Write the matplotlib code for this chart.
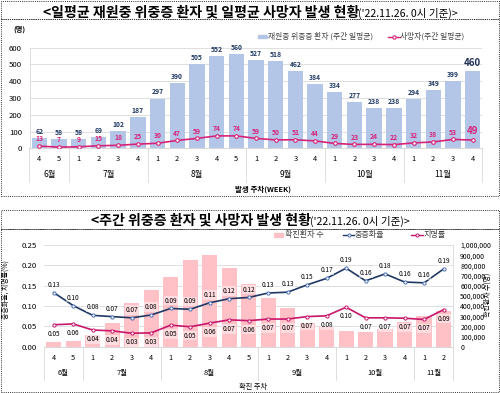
import matplotlib
matplotlib.use('Agg')
import matplotlib.pyplot as plt
from matplotlib.patches import Rectangle
from matplotlib.lines import Line2D
import matplotlib.transforms as mtrans
from matplotlib.ticker import FuncFormatter

plt.rcParams['font.family'] = ['Noto Sans CJK KR', 'DejaVu Sans']

# ---------------- data ----------------
top_months = ['6월', '7월', '8월', '9월', '10월', '11월']
top_month_spans = [2, 4, 5, 4, 4, 4]
top_weeks = ['4', '5', '1', '2', '3', '4', '1', '2', '3', '4', '5',
             '1', '2', '3', '4', '1', '2', '3', '4', '1', '2', '3', '4']
severe_patients = [62, 58, 58, 69, 102, 187, 297, 390, 505, 552, 560, 527,
                   518, 462, 384, 334, 277, 238, 238, 294, 349, 399, 460]
deaths = [13, 7, 9, 15, 18, 25, 30, 47, 59, 74, 74, 59, 50, 51, 44, 29,
          23, 24, 22, 32, 38, 53, 49]

bot_months = ['6월', '7월', '8월', '9월', '10월', '11월']
bot_month_spans = [2, 4, 5, 4, 4, 2]
bot_weeks = ['4', '5', '1', '2', '3', '4', '1', '2', '3', '4', '5',
             '1', '2', '3', '4', '1', '2', '3', '4', '1', '2']
confirmed = [49000, 59000, 114000, 234000, 429000, 560000, 683000, 856000,
             898000, 775000, 612000, 479000, 384000, 234000, 195000, 158000,
             149000, 175000, 243000, 300000, 350000]
severe_rate = [0.133, 0.101, 0.077, 0.074, 0.071, 0.078, 0.094, 0.092, 0.108,
               0.118, 0.121, 0.132, 0.134, 0.152, 0.168, 0.193, 0.162, 0.179,
               0.159, 0.157, 0.191]
fatality_rate = [0.054, 0.056, 0.041, 0.039, 0.033, 0.034, 0.053, 0.049, 0.058,
                 0.066, 0.064, 0.068, 0.068, 0.074, 0.076, 0.097, 0.071, 0.071,
                 0.070, 0.067, 0.091]

# ---------------- styles ----------------
W, H = 500, 393
BAR_BLUE = '#b4c6e7'
NAVY = '#1f3864'
MAGENTA = '#d6237a'
PINK = '#ffc1c6'
CRIMSON = '#c8166c'
GRID = '#d9d9d9'
TXT = '#404040'

fig = plt.figure(figsize=(W / 100, H / 100), dpi=100)
renderer = fig.canvas.get_renderer()


def fx(px):
    return px / W


def fy(py):
    return 1 - py / H


def fit_text(x0, x1, y, s, weight='normal', color='black', base=10):
    t = fig.text(fx(x0), fy(y), s, fontsize=base, fontweight=weight,
                 color=color, ha='left', va='center')
    bb = t.get_window_extent(renderer)
    t.set_fontsize(base * (x1 - x0) / bb.width)
    return t


# dotted frames
for (y0, y1) in [(1, 19), (19, 196), (210, 229), (229, 392)]:
    fig.patches.append(Rectangle((fx(1), fy(y1)), fx(498) - fx(0), fy(y0) - fy(y1),
                                 transform=fig.transFigure, fill=False,
                                 linestyle=(0, (1, 1.2)), linewidth=0.7,
                                 edgecolor='#303030'))

# titles
fit_text(43, 358, 12.5, '<일평균 재원중 위중증 환자 및 일평균 사망자 발생 현황', weight='bold')
fit_text(358, 458, 13.5, "('22.11.26. 0시 기준)>")
fit_text(90.7, 310, 220.5, '<주간 위중증 환자 및 사망자 발생 현황', weight='bold')
fit_text(310, 410, 221.5, "('22.11.26. 0시 기준)>")

# ================= top chart =================
L1, R1, T1, B1 = 29.5, 482.5, 47.7, 148.3
ax1 = fig.add_axes([fx(L1), fy(B1), fx(R1) - fx(L1), fy(T1) - fy(B1)])
n1 = len(severe_patients)
x1 = list(range(n1))
ax1.bar(x1, severe_patients, width=0.78, color=BAR_BLUE, zorder=2)
ax1.plot(x1, deaths, color=MAGENTA, lw=1.2, marker='o', ms=2.6,
         mfc='white', mec=MAGENTA, mew=0.8, zorder=3)
ax1.set_xlim(-0.5, n1 - 0.5)
ax1.set_ylim(0, 600)
ax1.set_yticks(range(0, 601, 100))
ax1.grid(axis='y', color=GRID, lw=0.6, zorder=0)
ax1.set_axisbelow(True)
for s in ['top', 'right']:
    ax1.spines[s].set_visible(False)
ax1.spines['left'].set_color(GRID)
ax1.spines['bottom'].set_color(GRID)
ax1.spines['left'].set_linewidth(0.6)
ax1.spines['bottom'].set_linewidth(0.8)
ax1.tick_params(axis='y', length=0, pad=5.4, labelsize=5.6, labelcolor='black')
ax1.set_xticks(x1)
ax1.set_xticklabels(top_weeks)
ax1.tick_params(axis='x', length=0, pad=5.0, labelsize=5.4, labelcolor='black')

for i, v in enumerate(severe_patients):
    last = i == n1 - 1
    ax1.annotate(str(v), (i, v), xytext=(0, 2.2), textcoords='offset points',
                 ha='center', va='bottom', fontsize=7 if last else 4.9,
                 fontweight='bold', color=NAVY if not last else '#1f2f55')
for i, v in enumerate(deaths):
    last = i == n1 - 1
    ax1.annotate(str(v), (i, v), xytext=(0, 2.8), textcoords='offset points',
                 ha='center', va='bottom', fontsize=7 if last else 4.9,
                 fontweight='bold', color=MAGENTA)

tr1 = mtrans.blended_transform_factory(ax1.transData, fig.transFigure)
pos = -0.5
bounds = [pos]
for m, span in zip(top_months, top_month_spans):
    ax1.text(pos + span / 2, fy(174), m, transform=tr1, ha='center', va='center',
             fontsize=6.0, color='black')
    pos += span
    bounds.append(pos)
for b in bounds:
    ax1.add_line(Line2D([b, b], [fy(B1), fy(181.7)], transform=tr1, color=GRID,
                        lw=0.6, clip_on=False))
fig.text(fx(263), fy(189.5), '발생 주차(WEEK)', fontsize=5.4, fontweight='bold',
         ha='center', va='center')
fig.text(fx(19), fy(29), '(명)', fontsize=5.2, fontweight='bold', ha='center', va='center')

# top legend
fig.patches.append(Rectangle((fx(258.3), fy(38.3)), fx(266.7) - fx(258.3), fy(34.5) - fy(38.3),
                             transform=fig.transFigure, color=BAR_BLUE))
fig.text(fx(268.5), fy(36.5), '재원중 위중증 환자 (주간 일평균)', fontsize=5.6,
         color=TXT, ha='left', va='center')
fig.lines.append(Line2D([fx(387.7), fx(400)], [fy(36.5), fy(36.5)], transform=fig.transFigure,
                        color=MAGENTA, lw=1.0, marker='', zorder=3))
fig.lines.append(Line2D([fx(393.8)], [fy(36.5)], transform=fig.transFigure, color=MAGENTA,
                        marker='o', ms=2.4, mfc='white', mew=0.8, zorder=4))
fig.text(fx(400.5), fy(36.5), '사망자(주간 일평균)', fontsize=5.6, color=TXT,
         ha='left', va='center')

# ================= bottom chart =================
L2, R2, T2, B2 = 44.0, 453.3, 245.0, 346.7
ax2 = fig.add_axes([fx(L2), fy(B2), fx(R2) - fx(L2), fy(T2) - fy(B2)])
ax3 = ax2.twinx()
n2 = len(confirmed)
x2 = list(range(n2))
ax3.bar(x2, confirmed, width=0.78, color=PINK, zorder=1)
ax3.set_ylim(0, 1000000)
ax3.set_yticks(range(0, 1000001, 100000))
ax3.yaxis.set_major_formatter(FuncFormatter(lambda v, p: f'{int(v):,}'))
ax3.tick_params(axis='y', length=0, pad=5.0, labelsize=5.0, labelcolor='black')
ax3.set_zorder(1)
ax2.set_zorder(2)
ax2.patch.set_visible(False)
ax3.grid(False)
for s in ['top', 'left', 'bottom']:
    ax3.spines[s].set_visible(False)
ax3.spines['right'].set_color(GRID)
ax3.spines['right'].set_linewidth(0.6)

ax2.plot(x2, severe_rate, color=NAVY, lw=1.2, marker='o', ms=2.3, mfc='white',
         mec='#4a6fb5', mew=0.7, zorder=4)
ax2.plot(x2, fatality_rate, color=CRIMSON, lw=1.2, marker='o', ms=2.3, mfc='white',
         mec=CRIMSON, mew=0.7, zorder=4)
ax2.set_xlim(-0.5, n2 - 0.5)
ax3.set_xlim(-0.5, n2 - 0.5)
ax2.set_ylim(0, 0.25)
ax2.set_yticks([0, 0.05, 0.10, 0.15, 0.20, 0.25])
ax2.yaxis.set_major_formatter(FuncFormatter(lambda v, p: f'{v:.2f}'))
ax2.tick_params(axis='y', length=0, pad=5.0, labelsize=5.6, labelcolor='black')
for s in ['top', 'right']:
    ax2.spines[s].set_visible(False)
ax2.spines['left'].set_visible(False)
ax2.spines['bottom'].set_color(GRID)
ax2.spines['bottom'].set_linewidth(0.8)
for gy in [0.05, 0.10, 0.15, 0.20, 0.25]:
    ax3.axhline(gy * 4000000, color=GRID, lw=0.6, zorder=0)
ax2.set_xticks(x2)
ax2.set_xticklabels(bot_weeks)
ax2.tick_params(axis='x', length=0, pad=5.0, labelsize=5.2, labelcolor='black')

box = dict(facecolor='white', alpha=0.45, edgecolor='none', pad=0.5)
for i, v in enumerate(severe_rate):
    ax2.annotate(f'{v:.2f}', (i, v), xytext=(0, 2.8), textcoords='offset points',
                 ha='center', va='bottom', fontsize=4.7, color='black', bbox=box,
                 zorder=5)
for i, v in enumerate(fatality_rate):
    ax2.annotate(f'{v:.2f}', (i, v), xytext=(0, -3.6), textcoords='offset points',
                 ha='center', va='top', fontsize=4.7, color='black', bbox=box,
                 zorder=5)

tr2 = mtrans.blended_transform_factory(ax2.transData, fig.transFigure)
pos = -0.5
bounds = [pos]
for m, span in zip(bot_months, bot_month_spans):
    ax2.text(pos + span / 2, fy(372.7), m, transform=tr2, ha='center', va='center',
             fontsize=5.4, color='black')
    pos += span
    bounds.append(pos)
for b in bounds:
    ax2.add_line(Line2D([b, b], [fy(B2), fy(380)], transform=tr2, color=GRID,
                        lw=0.6, clip_on=False))
fig.text(fx(253), fy(386.5), '확진 주차', fontsize=5.2, ha='center', va='center')
fig.text(fx(6), fy(290), '중증화율, 치명률(%)', fontsize=5.0, rotation=90,
         ha='center', va='center')
fig.text(fx(488), fy(295), '확진환자 수(명)', fontsize=5.0, rotation=90,
         ha='center', va='center')

# bottom legend
fig.patches.append(Rectangle((fx(274), fy(237)), fx(282.7) - fx(274), fy(232.7) - fy(237),
                             transform=fig.transFigure, color=PINK))
fig.text(fx(285), fy(235), '확진환자 수', fontsize=5.8, color=TXT, ha='left', va='center')
for (a, b, c, mc) in [(343.3, 354, NAVY, '#4a6fb5'), (411, 422.7, CRIMSON, CRIMSON)]:
    fig.lines.append(Line2D([fx(a), fx(b)], [fy(235), fy(235)], transform=fig.transFigure,
                            color=c, lw=1.0))
    fig.lines.append(Line2D([fx((a + b) / 2)], [fy(235)], transform=fig.transFigure,
                            marker='o', ms=2.2, mfc='white', mec=mc, mew=0.7, color=c))
fig.text(fx(355), fy(235), '중증화율', fontsize=5.8, color=TXT, ha='left', va='center')
fig.text(fx(423.5), fy(235), '치명률', fontsize=5.8, color=TXT, ha='left', va='center')

fig.savefig('out.png', dpi=100)
